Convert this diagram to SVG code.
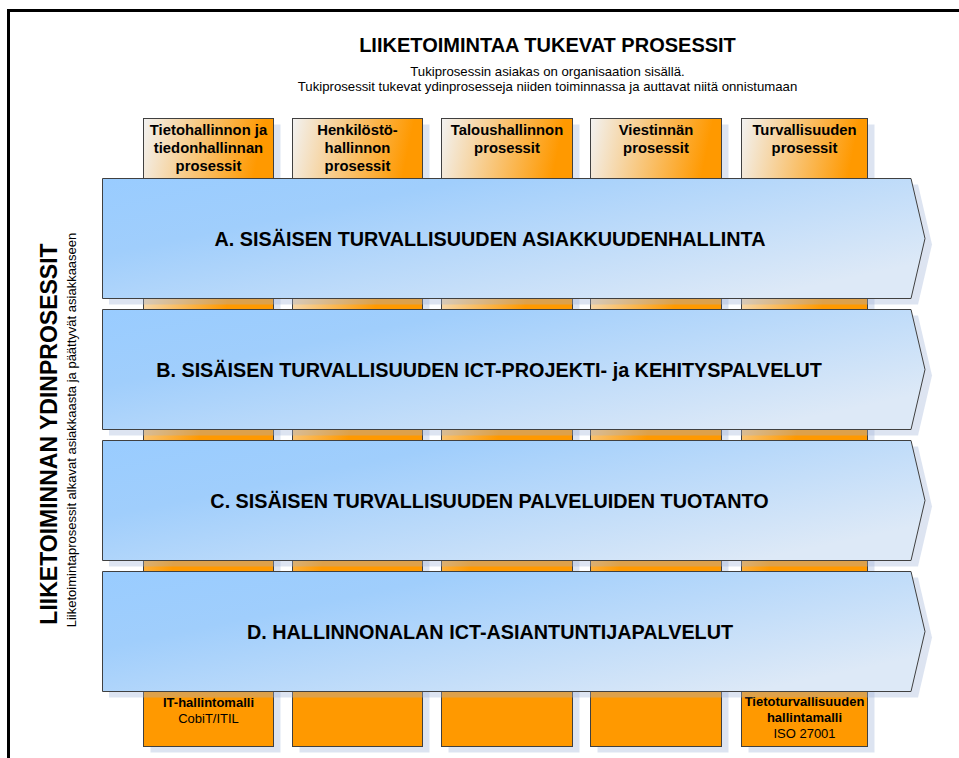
<svg xmlns="http://www.w3.org/2000/svg" width="959" height="758" viewBox="0 0 959 758">
  <defs>
    <linearGradient id="colFill" x1="0" y1="0" x2="1" y2="1">
      <stop offset="0" stop-color="#f2f2f2"/>
      <stop offset="0.47" stop-color="#ff9900"/>
      <stop offset="1" stop-color="#ff9900"/>
    </linearGradient>
    <linearGradient id="arrowFill" x1="0" y1="0" x2="1" y2="0.7">
      <stop offset="0" stop-color="#99ccff"/>
      <stop offset="0.3" stop-color="#a0cefc"/>
      <stop offset="1" stop-color="#dde9f7"/>
    </linearGradient>
    <style>
      .frame { fill: none; stroke: #000; stroke-width: 3; }
      .col { fill: url(#colFill); stroke: #404040; stroke-width: 1; }
      .shadow { fill: #9fb3d6; opacity: 0.35; }
      .arrow { fill: url(#arrowFill); stroke: #404040; stroke-width: 1; }
      .title { font-family: "Liberation Sans", Arial, sans-serif; font-weight: bold; font-size: 20px; fill: #000; text-anchor: middle; }
      .sub { font-family: "Liberation Sans", Arial, sans-serif; font-size: 13.2px; fill: #000; text-anchor: middle; }
      .colText { font-family: "Liberation Sans", Arial, sans-serif; font-weight: bold; font-size: 14.8px; fill: #000; text-anchor: middle; }
      .footB { font-family: "Liberation Sans", Arial, sans-serif; font-weight: bold; font-size: 13px; fill: #000; text-anchor: middle; }
      .foot { font-family: "Liberation Sans", Arial, sans-serif; font-size: 13px; fill: #000; text-anchor: middle; }
      .arrowText { font-family: "Liberation Sans", Arial, sans-serif; font-weight: bold; font-size: 19.8px; fill: #000; text-anchor: middle; }
      .vTitle { font-family: "Liberation Sans", Arial, sans-serif; font-weight: bold; font-size: 23px; fill: #000; text-anchor: middle; }
      .vSub { font-family: "Liberation Sans", Arial, sans-serif; font-size: 13px; fill: #000; text-anchor: middle; }
    </style>
  </defs>

  <rect width="959" height="758" fill="#fff"/>

  <!-- outer frame: top and left edges -->
  <path class="frame" d="M8.5,758 V10.5 H959"/>

  <!-- heading -->
  <g id="heading">
    <text class="title" x="547.5" y="52">LIIKETOIMINTAA TUKEVAT PROSESSIT</text>
    <text class="sub" x="547.5" y="76">Tukiprosessin asiakas on organisaation sisällä.</text>
    <text class="sub" x="547.5" y="91">Tukiprosessit tukevat ydinprosesseja niiden toiminnassa ja auttavat niitä onnistumaan</text>
  </g>

  <!-- side heading -->
  <g id="side-heading">
    <text class="vTitle" transform="translate(57,434) rotate(-90)">LIIKETOIMINNAN YDINPROSESSIT</text>
    <text class="vSub" transform="translate(76,430) rotate(-90)">Liiketoimintaprosessit alkavat asiakkaasta ja päättyvät asiakkaaseen</text>
  </g>

  <!-- support process columns -->
  <g id="col-tieto">
    <rect class="shadow" x="150.5" y="124.5" width="130" height="628"/>
    <rect class="col" x="143.5" y="118.5" width="130" height="628"/>
    <text class="colText" x="208.5" y="135">Tietohallinnon ja</text>
    <text class="colText" x="208.5" y="153">tiedonhallinnan</text>
    <text class="colText" x="208.5" y="171">prosessit</text>
    <text class="footB" x="208.5" y="707">IT-hallintomalli</text>
    <text class="foot" x="208.5" y="723">CobiT/ITIL</text>
  </g>
  <g id="col-henkilosto">
    <rect class="shadow" x="299.5" y="124.5" width="130" height="628"/>
    <rect class="col" x="292.5" y="118.5" width="130" height="628"/>
    <text class="colText" x="357.5" y="135">Henkilöstö-</text>
    <text class="colText" x="357.5" y="153">hallinnon</text>
    <text class="colText" x="357.5" y="171">prosessit</text>
  </g>
  <g id="col-talous">
    <rect class="shadow" x="448.5" y="124.5" width="131" height="628"/>
    <rect class="col" x="441.5" y="118.5" width="131" height="628"/>
    <text class="colText" x="507" y="135">Taloushallinnon</text>
    <text class="colText" x="507" y="153">prosessit</text>
  </g>
  <g id="col-viestinta">
    <rect class="shadow" x="597.5" y="124.5" width="131" height="628"/>
    <rect class="col" x="590.5" y="118.5" width="131" height="628"/>
    <text class="colText" x="656" y="135">Viestinnän</text>
    <text class="colText" x="656" y="153">prosessit</text>
  </g>
  <g id="col-turvallisuus">
    <rect class="shadow" x="748.5" y="124.5" width="126" height="628"/>
    <rect class="col" x="741.5" y="118.5" width="126" height="628"/>
    <text class="colText" x="804.5" y="135">Turvallisuuden</text>
    <text class="colText" x="804.5" y="153">prosessit</text>
    <text class="footB" x="804.5" y="706">Tietoturvallisuuden</text>
    <text class="footB" x="804.5" y="722">hallintamalli</text>
    <text class="foot" x="804.5" y="738">ISO 27001</text>
  </g>

  <!-- core process arrows -->
  <g id="arrow-a">
    <path class="shadow" d="M109,184.5 H918 L932,244.5 L918,304.5 H109 Z"/>
    <path class="arrow" d="M102.5,178.5 H911 L925,238.5 L911,298.5 H102.5 Z"/>
    <text class="arrowText" x="490" y="246">A. SISÄISEN TURVALLISUUDEN ASIAKKUUDENHALLINTA</text>
  </g>
  <g id="arrow-b">
    <path class="shadow" d="M109,315.5 H918 L932,375.5 L918,435.5 H109 Z"/>
    <path class="arrow" d="M102.5,309.5 H911 L925,369.5 L911,429.5 H102.5 Z"/>
    <text class="arrowText" x="489" y="377">B. SISÄISEN TURVALLISUUDEN ICT-PROJEKTI- ja KEHITYSPALVELUT</text>
  </g>
  <g id="arrow-c">
    <path class="shadow" d="M109,446.5 H918 L932,506.5 L918,566.5 H109 Z"/>
    <path class="arrow" d="M102.5,440.5 H911 L925,500.5 L911,560.5 H102.5 Z"/>
    <text class="arrowText" x="489.5" y="508">C. SISÄISEN TURVALLISUUDEN PALVELUIDEN TUOTANTO</text>
  </g>
  <g id="arrow-d">
    <path class="shadow" d="M109,577.5 H918 L932,637.5 L918,697.5 H109 Z"/>
    <path class="arrow" d="M102.5,571.5 H911 L925,631.5 L911,691.5 H102.5 Z"/>
    <text class="arrowText" x="490" y="639">D. HALLINNONALAN ICT-ASIANTUNTIJAPALVELUT</text>
  </g>
</svg>
